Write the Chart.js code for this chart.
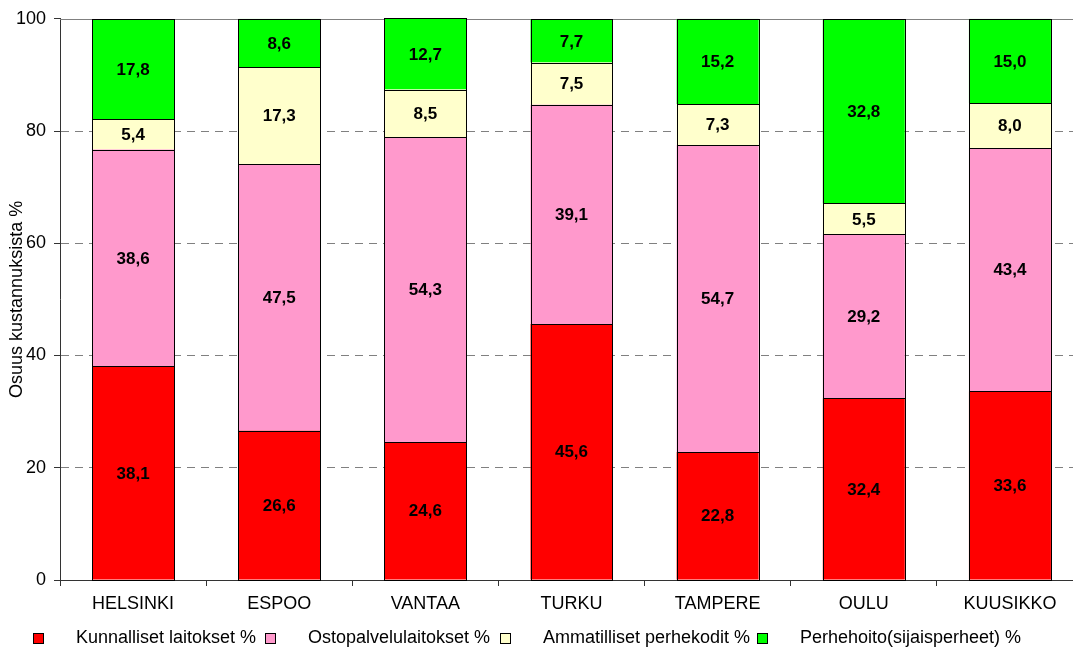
<!DOCTYPE html>
<html>
<head>
<meta charset="utf-8">
<script src="https://cdn.jsdelivr.net/npm/chart.js@4/dist/chart.umd.min.js"></script>
<style>
  html, body { margin:0; padding:0; overflow:hidden; background:#fff; width:1073px; height:648px; }
  #wrap { position:absolute; left:0; top:0; width:1100px; height:648px; }
  #legend { position:absolute; left:0; top:0; width:1073px; height:648px; pointer-events:none;
            font-family:"Liberation Sans", Arial, sans-serif; font-size:18px; color:#000; }
  .lb { position:absolute; width:9px; height:9px; border:1px solid #000; top:633px; }
  .lt { position:absolute; top:627px; white-space:nowrap; line-height:21px; }
</style>
</head>
<body>
<div id="wrap"><canvas id="c" width="1100" height="648"></canvas></div>
<div id="legend"></div>
<script>
const categories = ["HELSINKI", "ESPOO", "VANTAA", "TURKU", "TAMPERE", "OULU", "KUUSIKKO"];
const seriesNames = ["Kunnalliset laitokset %", "Ostopalvelulaitokset %", "Ammatilliset perhekodit %", "Perhehoito(sijaisperheet) %"];
const kunnalliset = [38.1, 26.6, 24.6, 45.6, 22.8, 32.4, 33.6];
const ostopalvelu = [38.6, 47.5, 54.3, 39.1, 54.7, 29.2, 43.4];
const ammatilliset = [5.4, 17.3, 8.5, 7.5, 7.3, 5.5, 8.0];
const perhehoito = [17.8, 8.6, 12.7, 7.7, 15.2, 32.8, 15.0];
const yTicks = [0, 20, 40, 60, 80, 100];
const colors = ["#FF0000", "#FF99CC", "#FFFFCC", "#00FF00"];
const axisTitle = "Osuus kustannuksista %";

const FONT = "'Liberation Sans', Arial, sans-serif";
const seriesData = [kunnalliset, ostopalvelu, ammatilliset, perhehoito];

const labelPlugin = {
  id: 'barLabels',
  afterDatasetsDraw(chart) {
    const ctx = chart.ctx;
    ctx.save();
    // crisp black outlines around each segment
    ctx.strokeStyle = "#000";
    ctx.lineWidth = 1;
    chart.data.datasets.forEach((ds, di) => {
      const meta = chart.getDatasetMeta(di);
      meta.data.forEach((el) => {
        const x1 = Math.round(el.x - el.width / 2) + 0.5;
        const x2 = Math.round(el.x + el.width / 2) + 0.5;
        const y1 = Math.round(el.y) + 0.5;
        const y2 = Math.round(el.base) + 0.5;
        ctx.strokeRect(x1, y1, x2 - x1, y2 - y1);
      });
    });
    ctx.font = "bold 17px " + FONT;
    ctx.fillStyle = "#000";
    ctx.textAlign = "center";
    ctx.textBaseline = "middle";
    chart.data.datasets.forEach((ds, di) => {
      const meta = chart.getDatasetMeta(di);
      meta.data.forEach((el, i) => {
        const v = ds.data[i];
        const y = (el.y + el.base) / 2;
        ctx.fillText(v.toFixed(1).replace('.', ','), el.x, y + 1);
      });
    });
    ctx.restore();
  }
};

const topLinePlugin = {
  id: 'topLine',
  beforeDatasetsDraw(chart) {
    const a = chart.chartArea, ctx = chart.ctx;
    ctx.save();
    ctx.strokeStyle = "#808080";
    ctx.lineWidth = 1;
    ctx.beginPath();
    ctx.moveTo(a.left, Math.round(a.top) + 0.5);
    ctx.lineTo(a.right, Math.round(a.top) + 0.5);
    ctx.stroke();
    ctx.restore();
  }
};

new Chart(document.getElementById('c'), {
  type: 'bar',
  data: {
    labels: categories,
    datasets: seriesNames.map((n, k) => ({
      label: n,
      data: seriesData[k],
      backgroundColor: colors[k],
      borderWidth: 0,
      barPercentage: 0.561,
      categoryPercentage: 1.0
    }))
  },
  options: {
    responsive: false,
    animation: false,
    devicePixelRatio: 1,
    layout: { padding: { left: 0, right: 17, top: 18, bottom: 0 } },
    plugins: { legend: { display: false }, tooltip: { enabled: false } },
    scales: {
      x: {
        stacked: true,
        offset: true,
        grid: { display: true, drawOnChartArea: false, tickLength: 6, offset: true, tickColor: "#333", color: "#333" },
        border: { display: true, color: "#333", width: 1 },
        ticks: { color: "#000", font: { family: FONT, size: 18 }, padding: 7, maxRotation: 0 },
        afterFit(s) { s.height = 68; }
      },
      y: {
        stacked: true,
        min: 0, max: 100,
        afterBuildTicks(s) { s.ticks = yTicks.map(v => ({ value: v })); },
        grid: {
          tickLength: 6,
          tickColor: "#333",
          color: (c) => (c.tick && (c.tick.value === 0 || c.tick.value === 100)) ? "rgba(0,0,0,0)" : "#808080"
        },
        border: { display: true, color: "#333", width: 1, dash: [8, 6] },
        ticks: { color: "#000", font: { family: FONT, size: 18 }, padding: 8 },
        title: { display: true, text: axisTitle, color: "#000", font: { family: FONT, size: 18 }, padding: { top: 6, bottom: 0 } },
        afterFit(s) { s.width = 60; }
      }
    }
  },
  plugins: [labelPlugin, topLinePlugin]
});

// HTML legend
const legendEl = document.getElementById('legend');
const boxX = [33, 265, 500, 757];
seriesNames.forEach((n, k) => {
  const b = document.createElement('div');
  b.className = 'lb';
  b.style.left = boxX[k] + 'px';
  b.style.background = colors[k];
  legendEl.appendChild(b);
  const t = document.createElement('div');
  t.className = 'lt';
  t.style.left = (boxX[k] + 43) + 'px';
  t.textContent = n;
  legendEl.appendChild(t);
});
</script>
</body>
</html>
